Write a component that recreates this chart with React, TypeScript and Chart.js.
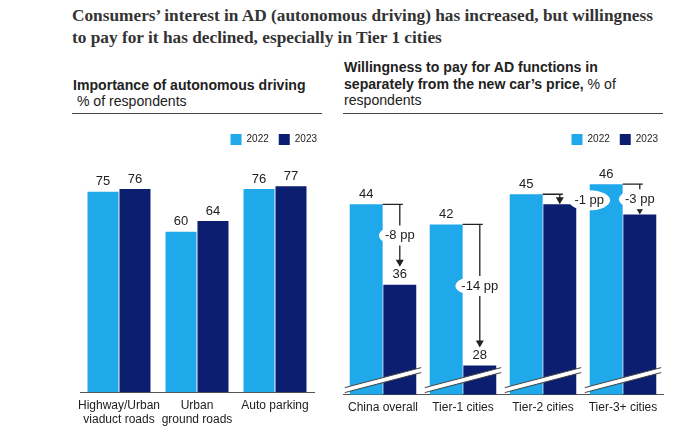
import { useEffect, useRef } from "react";
import { Chart, registerables } from "chart.js";

Chart.register(...registerables);

// ---------- data ----------
const YEARS = ["2022", "2023"];
const COLORS = ["#1fa8ea", "#0b1e6f"];

const LEFT_CATEGORIES = [["Highway/Urban", "viaduct roads"], ["Urban", "ground roads"], "Auto parking"];
const LEFT_2022 = [75, 60, 76];
const LEFT_2023 = [76, 64, 77];

const RIGHT_CATEGORIES = ["China overall", "Tier-1 cities", "Tier-2 cities", "Tier-3+ cities"];
const RIGHT_2022 = [44, 42, 45, 46];
const RIGHT_2023 = [36, 28, 44, 43];
const RIGHT_LABEL_INSIDE = [false, false, true, true];
const RIGHT_DELTA_PLACEMENT = ["arrow", "arrow", "right", "arrow"];
const RIGHT_AXIS_MIN = 25.1; // broken axis

const TITLE_LINES = [
  "Consumers\u2019 interest in AD (autonomous driving) has increased, but willingness",
  "to pay for it has declined, especially in Tier 1 cities",
];

const SANS = "'Liberation Sans', Arial, sans-serif";
const TEXT = "#222";

// ---------- plugins ----------
const leftLabels = {
  id: "leftLabels",
  afterDatasetsDraw(chart: any) {
    const ctx = chart.ctx;
    ctx.save();
    ctx.font = `13px ${SANS}`;
    ctx.fillStyle = TEXT;
    ctx.textAlign = "center";
    ctx.textBaseline = "middle";
    chart.data.datasets.forEach((ds: any, di: number) => {
      const meta = chart.getDatasetMeta(di);
      meta.data.forEach((el: any, i: number) => {
        ctx.fillText(String(ds.data[i]), el.x, el.y - 10);
      });
    });
    ctx.restore();
  },
};

const rightDecor = {
  id: "rightDecor",
  afterDatasetsDraw(chart: any) {
    const ctx = chart.ctx;
    const m0 = chart.getDatasetMeta(0);
    const m1 = chart.getDatasetMeta(1);
    const base = chart.chartArea.bottom;
    ctx.save();

    // axis break marks
    m0.data.forEach((b0: any, i: number) => {
      const b1 = m1.data[i];
      const xl = b0.x - b0.width / 2 - 5;
      const xr = b1.x + b1.width / 2 + 5;
      const tl = base - 7, bl = base - 2, tr = base - 27, br = base - 22;
      ctx.beginPath();
      ctx.moveTo(xl, tl);
      ctx.lineTo(xr, tr);
      ctx.lineTo(xr, br);
      ctx.lineTo(xl, bl);
      ctx.closePath();
      ctx.fillStyle = "#ffffff";
      ctx.fill();
      ctx.strokeStyle = "#444";
      ctx.lineWidth = 1;
      ctx.beginPath();
      ctx.moveTo(xl, tl);
      ctx.lineTo(xr, tr);
      ctx.moveTo(xl, bl);
      ctx.lineTo(xr, br);
      ctx.stroke();
    });

    // arrows + delta bubbles
    ctx.font = `13px ${SANS}`;
    m0.data.forEach((b0: any, i: number) => {
      const b1 = m1.data[i];
      const top0 = b0.y;
      const top1 = b1.y;
      const ax = b1.x;
      const tip = RIGHT_LABEL_INSIDE[i] ? top1 : top1 - 18;
      ctx.strokeStyle = "#222";
      ctx.fillStyle = "#222";
      ctx.lineWidth = 1.3;
      ctx.beginPath();
      ctx.moveTo(b0.x + b0.width / 2, top0);
      ctx.lineTo(ax + 3, top0);
      ctx.moveTo(ax, top0);
      ctx.lineTo(ax, tip - 6);
      ctx.stroke();
      ctx.beginPath();
      ctx.moveTo(ax - 4, tip - 7);
      ctx.lineTo(ax + 4, tip - 7);
      ctx.lineTo(ax, tip);
      ctx.closePath();
      ctx.fill();

      const delta = RIGHT_2023[i] - RIGHT_2022[i];
      const txt = `${delta} pp`;
      let lx = ax, ly = (top0 + tip) / 2;
      if (RIGHT_DELTA_PLACEMENT[i] === "right") {
        lx = b1.x + b1.width / 2 + 13;
        ly = top1 - 4;
      }
      const w = ctx.measureText(txt).width;
      ctx.fillStyle = "#ffffff";
      ctx.beginPath();
      ctx.ellipse(lx, ly, w / 2 + 6, 10, 0, 0, Math.PI * 2);
      ctx.fill();
      ctx.fillStyle = TEXT;
      ctx.textAlign = "center";
      ctx.textBaseline = "middle";
      ctx.fillText(txt, lx, ly);
    });

    // value labels
    ctx.textAlign = "center";
    ctx.textBaseline = "middle";
    m0.data.forEach((el: any, i: number) => {
      ctx.font = `13px ${SANS}`;
      ctx.fillStyle = TEXT;
      ctx.fillText(String(RIGHT_2022[i]), el.x, el.y - 10);
    });
    m1.data.forEach((el: any, i: number) => {
      if (RIGHT_LABEL_INSIDE[i]) {
        ctx.font = `bold 13px ${SANS}`;
        ctx.fillStyle = "#ffffff";
        ctx.fillText(String(RIGHT_2023[i]), el.x, (el.y + el.base) / 2 - 10);
      } else {
        ctx.font = `13px ${SANS}`;
        ctx.fillStyle = TEXT;
        ctx.fillText(String(RIGHT_2023[i]), el.x, el.y - 10);
      }
    });
    ctx.restore();
  },
};

function makeOptions(opts: {
  min: number;
  max: number;
  padding: any;
  rightGap: number;
  catPct: number;
  barPct: number;
}) {
  return {
    responsive: false,
    animation: false as const,
    layout: { padding: opts.padding },
    datasets: { bar: { categoryPercentage: opts.catPct, barPercentage: opts.barPct } },
    plugins: {
      legend: {
        position: "top" as const,
        align: "end" as const,
        labels: {
          boxWidth: 11,
          boxHeight: 11,
          padding: 10,
          color: TEXT,
          font: { size: 10, family: SANS },
        },
      },
      tooltip: { enabled: false },
      title: { display: false },
    },
    scales: {
      x: {
        grid: { display: false, drawTicks: false },
        border: { display: true, color: "#555", width: 1 },
        ticks: { color: TEXT, padding: 6, font: { size: 12, family: SANS }, maxRotation: 0, autoSkip: false },
      },
      y: { display: false, min: opts.min, max: opts.max },
      gap: {
        type: "linear",
        position: "right",
        display: true,
        grid: { display: false, drawTicks: false },
        border: { display: false },
        ticks: { display: false },
        afterFit: (scale: any) => {
          scale.width = opts.rightGap;
        },
      },
    },
  };
}

function LeftChart() {
  const ref = useRef<HTMLCanvasElement>(null);
  useEffect(() => {
    const chart = new Chart(ref.current!, {
      type: "bar",
      data: {
        labels: LEFT_CATEGORIES as any,
        datasets: [
          { label: YEARS[0], data: LEFT_2022, backgroundColor: COLORS[0], borderWidth: 0 },
          { label: YEARS[1], data: LEFT_2023, backgroundColor: COLORS[1], borderWidth: 0 },
        ],
      },
      options: makeOptions({
        min: 0,
        max: 88.7,
        padding: { left: 20, right: 3, top: 4, bottom: 7 },
        rightGap: 13,
        catPct: 0.82,
        barPct: 0.97,
      }) as any,
      plugins: [leftLabels],
    });
    return () => chart.destroy();
  }, []);
  return <canvas ref={ref} width={270} height={320} style={{ position: "absolute", left: 60, top: 120 }} />;
}

function RightChart() {
  const ref = useRef<HTMLCanvasElement>(null);
  useEffect(() => {
    const chart = new Chart(ref.current!, {
      type: "bar",
      data: {
        labels: RIGHT_CATEGORIES,
        datasets: [
          { label: YEARS[0], data: RIGHT_2022, backgroundColor: COLORS[0], borderWidth: 0 },
          { label: YEARS[1], data: RIGHT_2023, backgroundColor: COLORS[1], borderWidth: 0 },
        ],
      },
      options: makeOptions({
        min: RIGHT_AXIS_MIN,
        max: 48.9,
        padding: { left: 13, right: 32, top: 4, bottom: 19 },
        rightGap: 5,
        catPct: 0.84,
        barPct: 0.98,
      }) as any,
      plugins: [rightDecor],
    });
    return () => chart.destroy();
  }, []);
  return <canvas ref={ref} width={370} height={320} style={{ position: "absolute", left: 330, top: 120 }} />;
}

export default function App() {
  return (
    <div
      style={{
        position: "absolute",
        left: 0,
        top: 0,
        width: 700,
        height: 443,
        background: "#fff",
        overflow: "hidden",
        color: TEXT,
      }}
    >
      <div
        style={{
          position: "absolute",
          left: 72,
          top: 5,
          fontFamily: "'Liberation Serif', serif",
          fontWeight: "bold",
          fontSize: 17.3,
          lineHeight: "22px",
          color: "#333",
          whiteSpace: "nowrap",
        }}
      >
        {TITLE_LINES.map((l, i) => (
          <div key={i}>{l}</div>
        ))}
      </div>

      <div
        style={{
          position: "absolute",
          left: 73,
          top: 77,
          fontFamily: SANS,
          fontSize: 14.1,
          lineHeight: "16px",
          whiteSpace: "nowrap",
        }}
      >
        <div style={{ fontWeight: "bold" }}>Importance of autonomous driving</div>
        <div>&nbsp;% of respondents</div>
      </div>
      <div style={{ position: "absolute", left: 72, top: 113, width: 250, borderTop: "1.5px solid #444" }} />

      <div
        style={{
          position: "absolute",
          left: 344,
          top: 59,
          fontFamily: SANS,
          fontSize: 14.1,
          lineHeight: "16.5px",
          whiteSpace: "nowrap",
        }}
      >
        <div style={{ fontWeight: "bold" }}>Willingness to pay for AD functions in</div>
        <div>
          <span style={{ fontWeight: "bold" }}>separately from the new car&rsquo;s price,</span> % of
        </div>
        <div>respondents</div>
      </div>
      <div style={{ position: "absolute", left: 343, top: 113, width: 320, borderTop: "1.5px solid #444" }} />

      <LeftChart />
      <RightChart />
    </div>
  );
}
